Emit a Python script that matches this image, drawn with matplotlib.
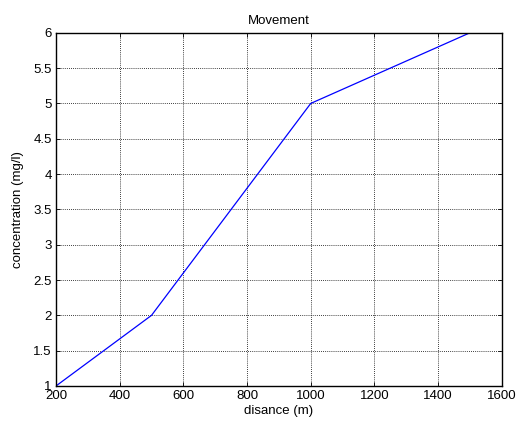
import matplotlib
matplotlib.use('Agg')
import matplotlib.pyplot as plt

# distance (m) vs concentration (mg/l)
distance = [200, 500, 1000, 1500]
concentration = [1, 2, 5, 6]

x_ticks = [200, 400, 600, 800, 1000, 1200, 1400, 1600]
y_ticks = [1, 1.5, 2, 2.5, 3, 3.5, 4, 4.5, 5, 5.5, 6]
y_labels = ['1', '1.5', '2', '2.5', '3', '3.5', '4', '4.5', '5', '5.5', '6']

plt.rcParams['font.family'] = ['Liberation Sans', 'DejaVu Sans']
plt.rcParams['font.size'] = 9.5

fig = plt.figure(figsize=(5.16, 4.23), dpi=100)
ax = fig.add_axes([0.1085, 0.0875, 0.864, 0.835])

ax.plot(distance, concentration, color='blue', linewidth=0.9)

ax.set_xlim(200, 1600)
ax.set_ylim(1, 6)
ax.set_xticks(x_ticks)
ax.set_yticks(y_ticks)
ax.set_yticklabels(y_labels)
ax.tick_params(direction='in', length=3, width=0.6, top=True, right=True, pad=3)
ax.grid(True, color='black', linestyle=(0, (1, 1.5)), linewidth=0.6)
for s in ax.spines.values():
    s.set_linewidth(1.0)

ax.set_title('Movement', fontsize=9.5, pad=6)
ax.set_xlabel('disance (m)', labelpad=2)
ax.set_ylabel('concentration (mg/l)', labelpad=7)

fig.savefig('out.png', dpi=100)
